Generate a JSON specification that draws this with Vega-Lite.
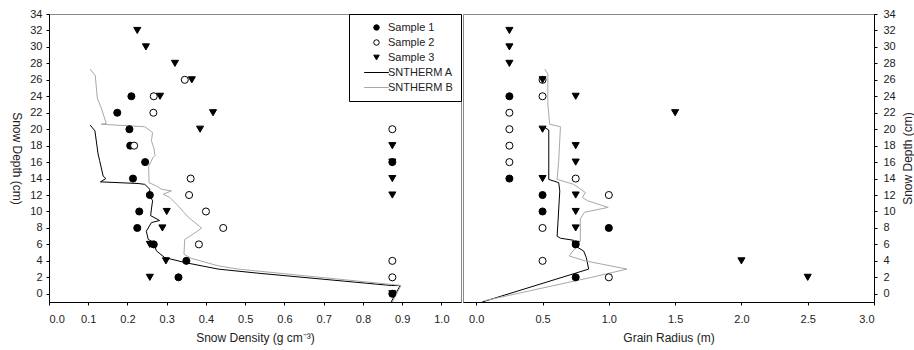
{
  "$schema": "https://vega.github.io/schema/vega-lite/v6.json",
  "padding": {"left": 9, "top": 7, "right": 0, "bottom": 5},
  "spacing": 0,
  "datasets": {
    "dens": [
      {"s": "Sample 1", "d": 24, "v": 0.21}, {"s": "Sample 1", "d": 22, "v": 0.174}, {"s": "Sample 1", "d": 20, "v": 0.205},
      {"s": "Sample 1", "d": 18, "v": 0.207}, {"s": "Sample 1", "d": 16, "v": 0.245}, {"s": "Sample 1", "d": 14, "v": 0.214},
      {"s": "Sample 1", "d": 12, "v": 0.257}, {"s": "Sample 1", "d": 10, "v": 0.23}, {"s": "Sample 1", "d": 8, "v": 0.225},
      {"s": "Sample 1", "d": 6, "v": 0.267}, {"s": "Sample 1", "d": 4, "v": 0.35}, {"s": "Sample 1", "d": 2, "v": 0.33},
      {"s": "Sample 1", "d": 0, "v": 0.875}, {"s": "Sample 1", "d": 16, "v": 0.875},
      {"s": "Sample 2", "d": 26, "v": 0.346}, {"s": "Sample 2", "d": 24, "v": 0.267}, {"s": "Sample 2", "d": 22, "v": 0.266},
      {"s": "Sample 2", "d": 20, "v": 0.875}, {"s": "Sample 2", "d": 18, "v": 0.217}, {"s": "Sample 2", "d": 14, "v": 0.361},
      {"s": "Sample 2", "d": 12, "v": 0.357}, {"s": "Sample 2", "d": 10, "v": 0.4}, {"s": "Sample 2", "d": 8, "v": 0.444},
      {"s": "Sample 2", "d": 6, "v": 0.382}, {"s": "Sample 2", "d": 4, "v": 0.875}, {"s": "Sample 2", "d": 2, "v": 0.875},
      {"s": "Sample 3", "d": 32, "v": 0.225}, {"s": "Sample 3", "d": 30, "v": 0.247}, {"s": "Sample 3", "d": 28, "v": 0.321},
      {"s": "Sample 3", "d": 26, "v": 0.364}, {"s": "Sample 3", "d": 24, "v": 0.283}, {"s": "Sample 3", "d": 22, "v": 0.418},
      {"s": "Sample 3", "d": 20, "v": 0.385}, {"s": "Sample 3", "d": 18, "v": 0.875}, {"s": "Sample 3", "d": 16, "v": 0.875},
      {"s": "Sample 3", "d": 14, "v": 0.875}, {"s": "Sample 3", "d": 12, "v": 0.875}, {"s": "Sample 3", "d": 10, "v": 0.3},
      {"s": "Sample 3", "d": 8, "v": 0.289}, {"s": "Sample 3", "d": 6, "v": 0.257}, {"s": "Sample 3", "d": 4, "v": 0.298},
      {"s": "Sample 3", "d": 2, "v": 0.257}, {"s": "Sample 3", "d": 0, "v": 0.875}
    ],
    "densl": [
      {"s": "SNTHERM A", "i": 1, "v": 0.105, "d": 20.5}, {"s": "SNTHERM A", "i": 2, "v": 0.117, "d": 19.8},
      {"s": "SNTHERM A", "i": 3, "v": 0.125, "d": 17.0}, {"s": "SNTHERM A", "i": 4, "v": 0.129, "d": 16.2},
      {"s": "SNTHERM A", "i": 5, "v": 0.138, "d": 14.3}, {"s": "SNTHERM A", "i": 6, "v": 0.145, "d": 14.0},
      {"s": "SNTHERM A", "i": 7, "v": 0.131, "d": 13.6}, {"s": "SNTHERM A", "i": 8, "v": 0.227, "d": 13.4},
      {"s": "SNTHERM A", "i": 9, "v": 0.244, "d": 13.3}, {"s": "SNTHERM A", "i": 10, "v": 0.257, "d": 12.7},
      {"s": "SNTHERM A", "i": 11, "v": 0.255, "d": 12.1}, {"s": "SNTHERM A", "i": 12, "v": 0.264, "d": 11.3},
      {"s": "SNTHERM A", "i": 13, "v": 0.261, "d": 10.3}, {"s": "SNTHERM A", "i": 14, "v": 0.259, "d": 9.5},
      {"s": "SNTHERM A", "i": 15, "v": 0.282, "d": 8.9}, {"s": "SNTHERM A", "i": 16, "v": 0.261, "d": 8.65},
      {"s": "SNTHERM A", "i": 17, "v": 0.248, "d": 7.6}, {"s": "SNTHERM A", "i": 18, "v": 0.253, "d": 6.6},
      {"s": "SNTHERM A", "i": 19, "v": 0.265, "d": 6.3}, {"s": "SNTHERM A", "i": 20, "v": 0.274, "d": 5.2},
      {"s": "SNTHERM A", "i": 21, "v": 0.295, "d": 4.4}, {"s": "SNTHERM A", "i": 22, "v": 0.346, "d": 3.8},
      {"s": "SNTHERM A", "i": 23, "v": 0.431, "d": 3.0}, {"s": "SNTHERM A", "i": 24, "v": 0.533, "d": 2.5},
      {"s": "SNTHERM A", "i": 25, "v": 0.873, "d": 1.0}, {"s": "SNTHERM A", "i": 26, "v": 0.895, "d": 1.0},
      {"s": "SNTHERM A", "i": 27, "v": 0.872, "d": -1.0},
      {"s": "SNTHERM B", "i": 1, "v": 0.105, "d": 27.3}, {"s": "SNTHERM B", "i": 2, "v": 0.118, "d": 26.5},
      {"s": "SNTHERM B", "i": 3, "v": 0.123, "d": 23.8}, {"s": "SNTHERM B", "i": 4, "v": 0.133, "d": 22.6},
      {"s": "SNTHERM B", "i": 5, "v": 0.146, "d": 20.7}, {"s": "SNTHERM B", "i": 6, "v": 0.133, "d": 20.6},
      {"s": "SNTHERM B", "i": 7, "v": 0.244, "d": 20.3}, {"s": "SNTHERM B", "i": 8, "v": 0.264, "d": 19.6},
      {"s": "SNTHERM B", "i": 9, "v": 0.261, "d": 18.6}, {"s": "SNTHERM B", "i": 10, "v": 0.268, "d": 17.6},
      {"s": "SNTHERM B", "i": 11, "v": 0.27, "d": 16.8}, {"s": "SNTHERM B", "i": 12, "v": 0.265, "d": 16.55},
      {"s": "SNTHERM B", "i": 13, "v": 0.254, "d": 15.5}, {"s": "SNTHERM B", "i": 14, "v": 0.255, "d": 13.5},
      {"s": "SNTHERM B", "i": 15, "v": 0.274, "d": 13.1}, {"s": "SNTHERM B", "i": 16, "v": 0.287, "d": 12.7},
      {"s": "SNTHERM B", "i": 17, "v": 0.312, "d": 12.5}, {"s": "SNTHERM B", "i": 18, "v": 0.291, "d": 12.1},
      {"s": "SNTHERM B", "i": 19, "v": 0.308, "d": 11.7}, {"s": "SNTHERM B", "i": 20, "v": 0.329, "d": 10.7},
      {"s": "SNTHERM B", "i": 21, "v": 0.355, "d": 9.3}, {"s": "SNTHERM B", "i": 22, "v": 0.389, "d": 8.0},
      {"s": "SNTHERM B", "i": 23, "v": 0.372, "d": 7.4}, {"s": "SNTHERM B", "i": 24, "v": 0.346, "d": 6.6},
      {"s": "SNTHERM B", "i": 25, "v": 0.344, "d": 4.8}, {"s": "SNTHERM B", "i": 26, "v": 0.363, "d": 4.3},
      {"s": "SNTHERM B", "i": 27, "v": 0.431, "d": 3.4}, {"s": "SNTHERM B", "i": 28, "v": 0.482, "d": 3.0},
      {"s": "SNTHERM B", "i": 29, "v": 0.88, "d": 1.1}, {"s": "SNTHERM B", "i": 30, "v": 0.897, "d": 1.0},
      {"s": "SNTHERM B", "i": 31, "v": 0.875, "d": -1.0}
    ],
    "grain": [
      {"s": "Sample 1", "d": 24, "v": 0.25}, {"s": "Sample 1", "d": 14, "v": 0.25}, {"s": "Sample 1", "d": 12, "v": 0.5},
      {"s": "Sample 1", "d": 10, "v": 0.5}, {"s": "Sample 1", "d": 8, "v": 1.0}, {"s": "Sample 1", "d": 6, "v": 0.75},
      {"s": "Sample 1", "d": 2, "v": 0.75},
      {"s": "Sample 2", "d": 26, "v": 0.5}, {"s": "Sample 2", "d": 24, "v": 0.5}, {"s": "Sample 2", "d": 22, "v": 0.25},
      {"s": "Sample 2", "d": 20, "v": 0.25}, {"s": "Sample 2", "d": 18, "v": 0.25}, {"s": "Sample 2", "d": 16, "v": 0.25},
      {"s": "Sample 2", "d": 14, "v": 0.75}, {"s": "Sample 2", "d": 12, "v": 1.0}, {"s": "Sample 2", "d": 8, "v": 0.5},
      {"s": "Sample 2", "d": 4, "v": 0.5}, {"s": "Sample 2", "d": 2, "v": 1.0},
      {"s": "Sample 3", "d": 32, "v": 0.25}, {"s": "Sample 3", "d": 30, "v": 0.25}, {"s": "Sample 3", "d": 28, "v": 0.25},
      {"s": "Sample 3", "d": 26, "v": 0.5}, {"s": "Sample 3", "d": 24, "v": 0.75}, {"s": "Sample 3", "d": 22, "v": 1.5},
      {"s": "Sample 3", "d": 20, "v": 0.5}, {"s": "Sample 3", "d": 18, "v": 0.75}, {"s": "Sample 3", "d": 16, "v": 0.75},
      {"s": "Sample 3", "d": 14, "v": 0.5}, {"s": "Sample 3", "d": 12, "v": 0.75}, {"s": "Sample 3", "d": 10, "v": 0.75},
      {"s": "Sample 3", "d": 8, "v": 0.75}, {"s": "Sample 3", "d": 6, "v": 0.75}, {"s": "Sample 3", "d": 4, "v": 2.0},
      {"s": "Sample 3", "d": 2, "v": 2.5}
    ],
    "grainl": [
      {"s": "SNTHERM A", "i": 1, "v": 0.517, "d": 20.2}, {"s": "SNTHERM A", "i": 2, "v": 0.547, "d": 19.9},
      {"s": "SNTHERM A", "i": 3, "v": 0.547, "d": 13.9}, {"s": "SNTHERM A", "i": 4, "v": 0.622, "d": 13.5},
      {"s": "SNTHERM A", "i": 5, "v": 0.63, "d": 12.5}, {"s": "SNTHERM A", "i": 6, "v": 0.61, "d": 7.0},
      {"s": "SNTHERM A", "i": 7, "v": 0.635, "d": 6.75}, {"s": "SNTHERM A", "i": 8, "v": 0.735, "d": 6.5},
      {"s": "SNTHERM A", "i": 9, "v": 0.748, "d": 5.8}, {"s": "SNTHERM A", "i": 10, "v": 0.81, "d": 5.2},
      {"s": "SNTHERM A", "i": 11, "v": 0.83, "d": 4.4}, {"s": "SNTHERM A", "i": 12, "v": 0.848, "d": 3.0},
      {"s": "SNTHERM A", "i": 13, "v": 0.748, "d": 2.5}, {"s": "SNTHERM A", "i": 14, "v": 0.045, "d": -1.0},
      {"s": "SNTHERM B", "i": 1, "v": 0.517, "d": 27.3}, {"s": "SNTHERM B", "i": 2, "v": 0.54, "d": 26.7},
      {"s": "SNTHERM B", "i": 3, "v": 0.54, "d": 23.0}, {"s": "SNTHERM B", "i": 4, "v": 0.554, "d": 20.6},
      {"s": "SNTHERM B", "i": 5, "v": 0.635, "d": 20.3}, {"s": "SNTHERM B", "i": 6, "v": 0.622, "d": 16.2},
      {"s": "SNTHERM B", "i": 7, "v": 0.61, "d": 13.9}, {"s": "SNTHERM B", "i": 8, "v": 0.735, "d": 13.3},
      {"s": "SNTHERM B", "i": 9, "v": 0.823, "d": 12.3}, {"s": "SNTHERM B", "i": 10, "v": 0.8, "d": 11.7},
      {"s": "SNTHERM B", "i": 11, "v": 0.84, "d": 11.3}, {"s": "SNTHERM B", "i": 12, "v": 0.995, "d": 10.5},
      {"s": "SNTHERM B", "i": 13, "v": 0.816, "d": 9.9}, {"s": "SNTHERM B", "i": 14, "v": 0.785, "d": 9.1},
      {"s": "SNTHERM B", "i": 15, "v": 0.785, "d": 6.4}, {"s": "SNTHERM B", "i": 16, "v": 0.76, "d": 5.8},
      {"s": "SNTHERM B", "i": 17, "v": 0.7, "d": 4.6}, {"s": "SNTHERM B", "i": 18, "v": 0.82, "d": 4.0},
      {"s": "SNTHERM B", "i": 19, "v": 1.137, "d": 3.0}, {"s": "SNTHERM B", "i": 20, "v": 0.87, "d": 2.0},
      {"s": "SNTHERM B", "i": 21, "v": 0.06, "d": -0.85}
    ]
  },
  "hconcat": [
    {
      "width": 412,
      "height": 288,
      "layer": [
        {
          "data": {"name": "densl"},
          "mark": {"type": "line", "strokeWidth": 1, "clip": true},
          "encoding": {
            "x": {"field": "v", "type": "quantitative"},
            "y": {"field": "d", "type": "quantitative"},
            "order": {"field": "i", "type": "quantitative"},
            "stroke": {"field": "s", "type": "nominal"}
          }
        },
        {
          "data": {"name": "dens"},
          "mark": {"type": "point", "size": 50, "opacity": 1, "strokeWidth": 1},
          "encoding": {
            "x": {"field": "v", "type": "quantitative"},
            "y": {"field": "d", "type": "quantitative"},
            "shape": {"field": "s", "type": "nominal"},
            "fill": {"field": "s", "type": "nominal"},
            "stroke": {"field": "s", "type": "nominal"}
          }
        },
        {
          "mark": {"type": "rule", "color": "#000", "strokeWidth": 1},
          "encoding": {"x": {"datum": 1.05}}
        }
      ],
      "encoding": {
        "x": {
          "type": "quantitative",
          "scale": {"domain": [0, 1.05], "nice": false, "zero": false},
          "axis": {"title": "Snow Density (g cm⁻³)", "values": [0, 0.1, 0.2, 0.3, 0.4, 0.5, 0.6, 0.7, 0.8, 0.9, 1.0], "format": ".1f", "labelPadding": 8, "titlePadding": 8}
        },
        "y": {
          "type": "quantitative",
          "scale": {"domain": [-1, 34], "nice": false, "zero": false},
          "axis": {"title": "Snow Depth (cm)", "titleAngle": 90, "titleBaseline": "middle", "titleAlign": "center", "titleX": -33, "titleY": 144, "values": [0, 2, 4, 6, 8, 10, 12, 14, 16, 18, 20, 22, 24, 26, 28, 30, 32, 34], "labelPadding": 4}
        },
        "shape": {
          "scale": {"domain": ["Sample 1", "Sample 2", "Sample 3", "SNTHERM A", "SNTHERM B"], "range": ["circle", "circle", "triangle-down", "M-4.5,0H4.5", "M-4.5,0H4.5"]},
          "legend": {"title": null}
        },
        "fill": {
          "scale": {"domain": ["Sample 1", "Sample 2", "Sample 3", "SNTHERM A", "SNTHERM B"], "range": ["#000", "#fff", "#000", "transparent", "transparent"]},
          "legend": {"title": null}
        },
        "stroke": {
          "scale": {"domain": ["Sample 1", "Sample 2", "Sample 3", "SNTHERM A", "SNTHERM B"], "range": ["#000", "#000", "#000", "#000", "#a8a8a8"]},
          "legend": {"title": null}
        }
      }
    },
    {
      "width": 411,
      "height": 288,
      "layer": [
        {
          "data": {"name": "grainl"},
          "mark": {"type": "line", "strokeWidth": 1, "clip": true},
          "encoding": {
            "x": {"field": "v", "type": "quantitative"},
            "y": {"field": "d", "type": "quantitative"},
            "order": {"field": "i", "type": "quantitative"},
            "stroke": {"field": "s", "type": "nominal", "legend": null}
          }
        },
        {
          "data": {"name": "grain"},
          "mark": {"type": "point", "size": 50, "opacity": 1, "strokeWidth": 1},
          "encoding": {
            "x": {"field": "v", "type": "quantitative"},
            "y": {"field": "d", "type": "quantitative"},
            "shape": {"field": "s", "type": "nominal", "legend": null},
            "fill": {"field": "s", "type": "nominal", "legend": null},
            "stroke": {"field": "s", "type": "nominal", "legend": null}
          }
        }
      ],
      "encoding": {
        "x": {
          "type": "quantitative",
          "scale": {"domain": [-0.1, 3.0], "nice": false, "zero": false},
          "axis": {"title": "Grain Radius (m)", "values": [0, 0.5, 1.0, 1.5, 2.0, 2.5, 3.0], "format": ".1f", "labelPadding": 8, "titlePadding": 8}
        },
        "y": {
          "type": "quantitative",
          "scale": {"domain": [-1, 34], "nice": false, "zero": false},
          "axis": {"orient": "right", "title": "Snow Depth (cm)", "titleAngle": 270, "titleBaseline": "middle", "titleAlign": "center", "titleX": 33, "titleY": 144, "values": [0, 2, 4, 6, 8, 10, 12, 14, 16, 18, 20, 22, 24, 26, 28, 30, 32, 34], "labelPadding": 6}
        },
        "shape": {
          "scale": {"domain": ["Sample 1", "Sample 2", "Sample 3", "SNTHERM A", "SNTHERM B"], "range": ["circle", "circle", "triangle-down", "M-4.5,0H4.5", "M-4.5,0H4.5"]}
        },
        "fill": {
          "scale": {"domain": ["Sample 1", "Sample 2", "Sample 3", "SNTHERM A", "SNTHERM B"], "range": ["#000", "#fff", "#000", "transparent", "transparent"]}
        },
        "stroke": {
          "scale": {"domain": ["Sample 1", "Sample 2", "Sample 3", "SNTHERM A", "SNTHERM B"], "range": ["#000", "#000", "#000", "#000", "#a8a8a8"]}
        }
      }
    }
  ],
  "resolve": {"scale": {"x": "independent", "shape": "independent", "fill": "independent", "stroke": "independent"}, "legend": {"shape": "independent", "fill": "independent", "stroke": "independent"}},
  "config": {
    "font": "Liberation Sans",
    "view": {"stroke": "#888", "strokeWidth": 1},
    "axis": {
      "domainColor": "#000", "tickColor": "#000", "labelColor": "#222", "titleColor": "#222",
      "labelFontSize": 11, "titleFontSize": 12, "titleFontWeight": "normal", "grid": false, "tickSize": 3
    },
    "legend": {
      "orient": "top-right", "offset": 0, "strokeColor": "#000", "padding": 8, "rowPadding": 3,
      "labelFontSize": 11, "labelColor": "#222", "symbolSize": 30, "symbolStrokeWidth": 1,
      "symbolOffset": 14, "labelOffset": 6, "fillColor": "#fff"
    }
  }
}
